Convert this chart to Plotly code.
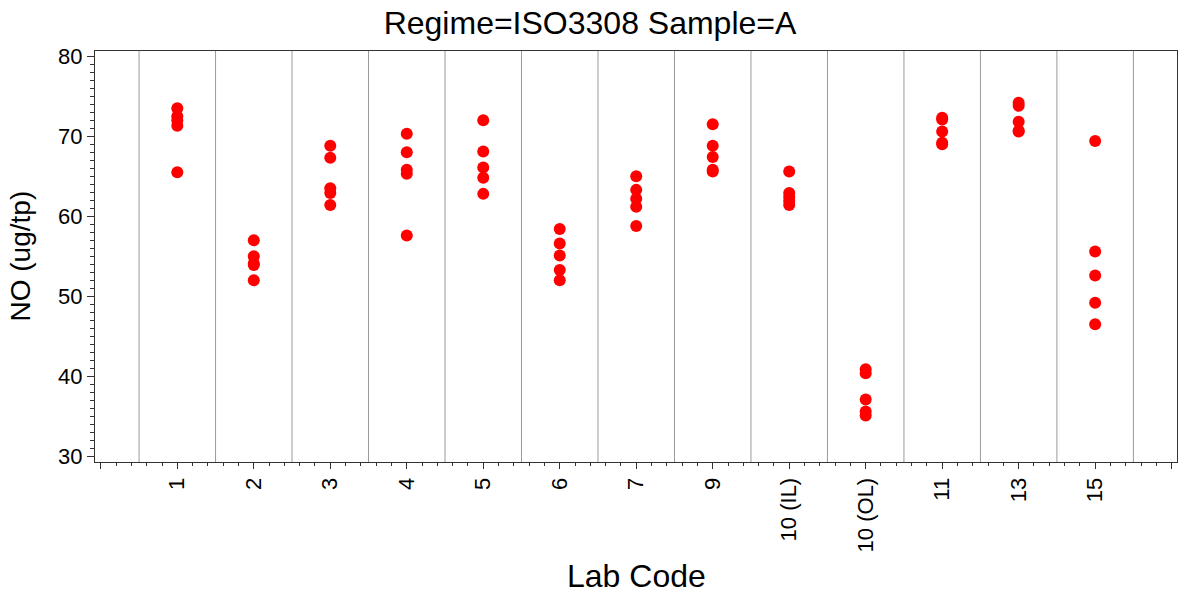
import plotly.graph_objects as go

labs = ["1", "2", "3", "4", "5", "6", "7", "9", "10 (IL)", "10 (OL)", "11", "13", "15"]
no_values = [
    [73.5, 72.5, 72.0, 71.3, 65.5],
    [57.0, 55.0, 54.1, 53.9, 52.0],
    [68.8, 67.3, 63.5, 62.9, 61.4],
    [70.3, 68.0, 65.8, 65.3, 57.6],
    [72.0, 68.1, 66.1, 64.8, 62.8],
    [58.4, 56.6, 55.1, 53.3, 52.0],
    [65.0, 63.3, 62.2, 61.2, 58.8],
    [71.5, 68.8, 67.4, 65.8, 65.6],
    [65.6, 62.9, 62.4, 61.9, 61.4],
    [40.9, 40.4, 37.1, 35.6, 35.1],
    [72.3, 72.1, 70.6, 69.2, 69.0],
    [74.2, 73.8, 71.8, 70.7, 70.6],
    [69.4, 55.6, 52.6, 49.2, 46.5],
]

xs, ys = [], []
for i, vals in enumerate(no_values):
    for v in vals:
        xs.append(i)
        ys.append(v)

FONT = "Liberation Sans, Arial, sans-serif"
W, H = 1180, 595
L, R, T, B = 95, 3, 51, 133
PW, PH = W - L - R, H - T - B

fig = go.Figure()
fig.add_trace(go.Scatter(
    x=xs, y=ys, mode="markers",
    marker=dict(color="#FF0000", size=12, line=dict(width=0)),
    showlegend=False, hoverinfo="y",
))

n = len(labs)
shapes = []
for k in range(n + 1):
    shapes.append(dict(type="line", xref="x", yref="paper", x0=k - 0.5, x1=k - 0.5,
                       y0=0, y1=1, line=dict(color="#9a9a9a", width=1), layer="below"))

tickvals = list(range(-1, n + 1))
ticktext = [""] + labs + [""]

fig.update_layout(
    width=W, height=H,
    paper_bgcolor="white", plot_bgcolor="white",
    margin=dict(l=L, r=R, t=T, b=B, autoexpand=False),
    font=dict(family=FONT, color="black"),
    title=dict(text="Regime=ISO3308 Sample=A", x=0.5, xref="container", xanchor="center",
               y=1 - 23 / H, yref="container", yanchor="middle",
               font=dict(size=32, family=FONT, color="black")),
    shapes=shapes,
    xaxis=dict(
        range=[-1.076, n + 0.07], tickmode="array", tickvals=tickvals, ticktext=ticktext,
        tickangle=-90, tickfont=dict(size=22, family=FONT), ticks="outside", ticklen=6,
        tickcolor="#333", tickwidth=1,
        minor=dict(tickmode="linear", tick0=0, dtick=0.2, ticks="outside", ticklen=3,
                   tickcolor="#333", showgrid=False),
        showgrid=False, zeroline=False, showline=True, linecolor="#333", linewidth=1, mirror=True,
    ),
    yaxis=dict(
        range=[29.3, 80.65], tickmode="linear", tick0=30, dtick=10,
        tickfont=dict(size=22, family=FONT), ticks="outside", ticklen=7,
        tickcolor="#333", tickwidth=1,
        minor=dict(tickmode="linear", tick0=30, dtick=1, ticks="outside", ticklen=4,
                   tickcolor="#333", showgrid=False),
        showgrid=False, zeroline=False, showline=True, linecolor="#333", linewidth=1, mirror=True,
    ),
    annotations=[
        dict(text="Lab Code", xref="paper", yref="paper", x=0.5, y=(H - B - 576) / PH,
             xanchor="center", yanchor="middle", showarrow=False,
             font=dict(size=32, family=FONT, color="black")),
        dict(text="NO (ug/tp)", xref="paper", yref="paper", x=(20 - L) / PW, y=0.5,
             xanchor="center", yanchor="middle", textangle=-90, showarrow=False,
             font=dict(size=28, family=FONT, color="black")),
    ],
)

fig.write_html("out.html", config={"displayModeBar": False},
               post_script="document.body.style.margin='0';document.body.style.overflow='hidden';")
